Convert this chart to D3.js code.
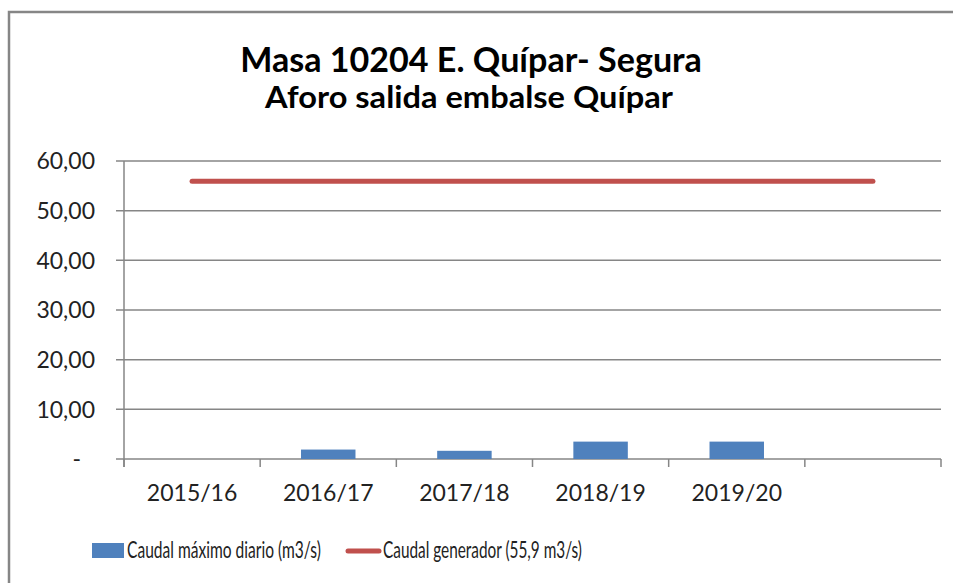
<!DOCTYPE html>
<html>
<head>
<meta charset="utf-8">
<script src="https://cdn.jsdelivr.net/npm/d3@7"></script>
<style>
  body { margin: 0; background: #fff; }
  svg { display: block; font-family: Lato, "Open Sans", sans-serif; }
</style>
</head>
<body>
<div id="chart"></div>
<script>
var categorias = ["2015/16", "2016/17", "2017/18", "2018/19", "2019/20", ""];
var caudalMaximo = [0, 1.9, 1.65, 3.5, 3.5, 0];
var caudalGenerador = [55.9, 55.9, 55.9, 55.9, 55.9, 55.9];
var yTicks = [0, 10, 20, 30, 40, 50, 60];
var titulo = "Masa 10204 E. Quípar- Segura";
var subtitulo = "Aforo salida embalse Quípar";
var leyenda = ["Caudal máximo diario (m3/s)", "Caudal generador (55,9 m3/s)"];

var width = 953, height = 583;
var gris = "#868686";
var azul = "#4f81bd";
var rojo = "#c0504d";

var svg = d3.select("#chart")
    .append("svg")
    .attr("width", width)
    .attr("height", height);

// marco del grafico
svg.append("rect")
    .attr("x", 9)
    .attr("y", 12)
    .attr("width", 960)
    .attr("height", 600)
    .style("fill", "none")
    .style("stroke", gris)
    .style("stroke-width", 2.5);

var x = d3.scaleBand()
    .domain(categorias.map(function(d, i) { return i; }))
    .range([124, 941]);

var y = d3.scaleLinear()
    .domain([0, 60])
    .range([459, 161]);

// lineas de division
svg.append("g")
    .selectAll("line")
    .data(yTicks)
    .enter()
    .append("line")
    .attr("x1", 116)
    .attr("x2", 941)
    .attr("y1", function(d) { return y(d); })
    .attr("y2", function(d) { return y(d); })
    .style("stroke", gris)
    .style("stroke-width", 1.5);

// eje vertical
svg.append("line")
    .attr("x1", 124).attr("x2", 124)
    .attr("y1", y(60)).attr("y2", 467)
    .style("stroke", gris)
    .style("stroke-width", 1.5);

// marcas eje x
svg.append("g")
    .selectAll("line")
    .data(categorias.map(function(d, i) { return i; }).concat([categorias.length]))
    .enter()
    .append("line")
    .attr("x1", function(i) { return i < categorias.length ? x(i) : x.range()[1]; })
    .attr("x2", function(i) { return i < categorias.length ? x(i) : x.range()[1]; })
    .attr("y1", y(0))
    .attr("y2", 467)
    .style("stroke", gris)
    .style("stroke-width", 1.5);

// etiquetas eje y
svg.append("g")
    .selectAll("text")
    .data(yTicks)
    .enter()
    .append("text")
    .attr("x", function(d) { return d === 0 ? 81 : 95; })
    .attr("y", function(d) { return y(d); })
    .attr("dy", "0.36em")
    .attr("text-anchor", "end")
    .style("font-size", "23px")
    .style("fill", "#222")
    .text(function(d) { return d === 0 ? "-" : d3.format(".2f")(d).replace(".", ","); });

// etiquetas eje x
svg.append("g")
    .selectAll("text")
    .data(categorias)
    .enter()
    .append("text")
    .attr("x", function(d, i) { return x(i) + x.bandwidth() / 2; })
    .attr("y", 501)
    .attr("text-anchor", "middle")
    .style("font-size", "23px")
    .style("fill", "#222")
    .text(function(d) { return d; });

// barras
var anchoBarra = x.bandwidth() * 0.4;
svg.append("g")
    .selectAll("rect")
    .data(caudalMaximo)
    .enter()
    .append("rect")
    .attr("x", function(d, i) { return x(i) + (x.bandwidth() - anchoBarra) / 2; })
    .attr("y", function(d) { return y(d); })
    .attr("width", anchoBarra)
    .attr("height", function(d) { return y(0) - y(d); })
    .style("fill", azul);

// linea caudal generador
var linea = d3.line()
    .x(function(d, i) { return x(i) + x.bandwidth() / 2; })
    .y(function(d) { return y(d); });

svg.append("path")
    .datum(caudalGenerador)
    .attr("d", linea)
    .style("fill", "none")
    .style("stroke", rojo)
    .style("stroke-width", 5)
    .style("stroke-linecap", "round");

// texto estrechado (la fuente original es mas condensada)
function textoAjustado(g, px, py, ancho, size, bold, anchor, txt) {
    var t = g.append("text")
        .attr("text-anchor", anchor)
        .style("font-size", size + "px")
        .style("font-weight", bold ? "bold" : "normal")
        .style("fill", bold ? "#000" : "#222")
        .text(txt);
    var k = ancho / t.node().getComputedTextLength();
    t.attr("transform", "translate(" + px + "," + py + ") scale(" + k + ",1)");
    return t;
}

// titulo
textoAjustado(svg, 471, 72, 462, 34, true, "middle", titulo);
textoAjustado(svg, 469, 108, 408, 31, true, "middle", subtitulo);

// leyenda
svg.append("rect")
    .attr("x", 92)
    .attr("y", 543)
    .attr("width", 32)
    .attr("height", 15)
    .style("fill", azul);

textoAjustado(svg, 127, 558, 194, 23, false, "start", leyenda[0]);

svg.append("line")
    .attr("x1", 348).attr("x2", 379)
    .attr("y1", 551).attr("y2", 551)
    .style("stroke", rojo)
    .style("stroke-width", 5)
    .style("stroke-linecap", "round");

textoAjustado(svg, 383, 558, 199, 23, false, "start", leyenda[1]);
</script>
</body>
</html>
